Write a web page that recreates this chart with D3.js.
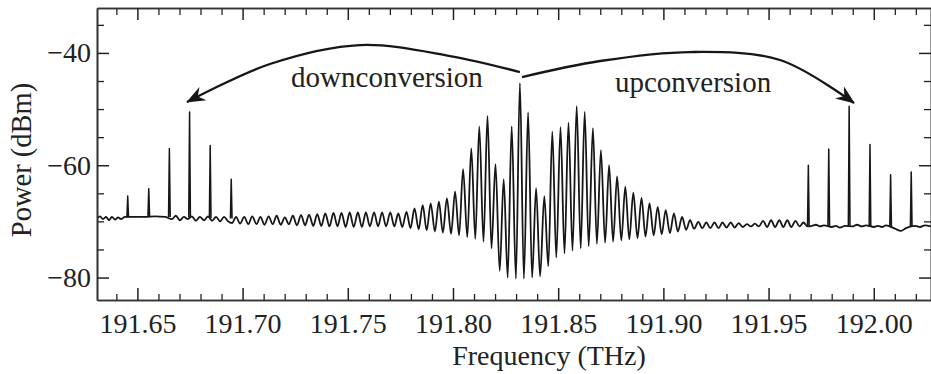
<!DOCTYPE html>
<html><head><meta charset="utf-8">
<script src="https://cdn.jsdelivr.net/npm/d3@7"></script>
<style>body{margin:0;background:#fff}svg{display:block}</style>
</head><body><svg id="c" width="931" height="374"></svg>
<script>
// ---------- data ----------
const xMajorTicks = [191.65,191.70,191.75,191.80,191.85,191.90,191.95,192.00];
const xMinorTicks = [191.64,191.66,191.67,191.68,191.69,191.71,191.72,191.73,191.74,191.76,191.77,191.78,191.79,191.81,191.82,191.83,191.84,191.86,191.87,191.88,191.89,191.91,191.92,191.93,191.94,191.96,191.97,191.98,191.99,192.01,192.02];
const yMajorTicks = [-80,-60,-40];
const yMinorTicks = [-75,-70,-65,-55,-50,-45,-35];

// flat noisy floor at the low-frequency end  [THz, dBm]
const floorLeft = [
 [191.6308,-69.5],[191.6322,-69.1],[191.6337,-69.6],[191.6351,-69.2],[191.6365,-69.8],
 [191.6379,-69.2],[191.6394,-69.7],[191.6408,-69.3],[191.6422,-69.6],[191.6441,-69.2],
 [191.6489,-69.2],[191.6536,-69.2],[191.6584,-69.1],[191.6631,-69.2],[191.6664,-69.6],
 [191.6683,-69.0],[191.6702,-69.8],[191.6721,-69.2],[191.6740,-69.6],[191.6759,-69.1],
 [191.6778,-69.9],[191.6797,-69.2],[191.6817,-69.8],[191.6836,-69.1],[191.6855,-69.9],
 [191.6874,-69.2],[191.6893,-70.0],[191.6912,-69.2],[191.6931,-70.0],[191.6950,-70.3]
];

// fringe comb: alternating maxima and minima  [THz, dBm]
const combTrace = [
 [191.6969,-69.2],[191.6988,-70.4],[191.7008,-69.2],[191.7027,-70.5],[191.7046,-69.1],[191.7066,-70.5],
 [191.7085,-69.2],[191.7104,-70.6],[191.7124,-69.1],[191.7143,-70.5],[191.7162,-69.0],[191.7181,-70.6],
 [191.7201,-69.3],[191.7220,-70.5],[191.7239,-69.0],[191.7258,-70.7],[191.7278,-68.9],[191.7297,-70.7],
 [191.7316,-68.8],[191.7336,-70.8],[191.7355,-68.7],[191.7374,-70.8],[191.7393,-68.6],[191.7413,-70.9],
 [191.7432,-68.5],[191.7451,-70.9],[191.7470,-68.5],[191.7490,-71.0],[191.7509,-68.4],[191.7528,-71.0],
 [191.7548,-68.4],[191.7567,-71.0],[191.7586,-68.4],[191.7605,-70.9],[191.7625,-68.4],[191.7644,-70.9],
 [191.7663,-68.4],[191.7682,-70.9],[191.7702,-68.4],[191.7721,-70.9],[191.7740,-68.6],[191.7759,-71.0],
 [191.7779,-68.3],[191.7798,-71.2],[191.7817,-67.7],[191.7837,-71.4],[191.7856,-67.1],[191.7875,-71.6],
 [191.7894,-66.8],[191.7914,-71.8],[191.7933,-66.5],[191.7952,-72.0],[191.7971,-65.9],[191.7991,-72.2],
 [191.8010,-64.7],[191.8029,-72.5],[191.8048,-60.7],[191.8068,-72.8],[191.8087,-57.0],[191.8106,-73.1],
 [191.8125,-53.1],[191.8145,-73.6],[191.8164,-51.2],[191.8183,-74.8],[191.8202,-59.8],[191.8222,-78.8],
 [191.8241,-62.5],[191.8260,-80.0],[191.8279,-53.1],[191.8299,-80.2],[191.8318,-45.4],[191.8337,-80.2],
 [191.8357,-50.6],[191.8376,-80.0],[191.8395,-64.1],[191.8414,-79.8],[191.8434,-65.5],[191.8453,-78.0],
 [191.8472,-54.0],[191.8491,-76.4],[191.8511,-53.2],[191.8530,-75.7],[191.8549,-52.4],[191.8568,-75.2],
 [191.8588,-49.5],[191.8607,-74.8],[191.8626,-50.5],[191.8645,-74.4],[191.8665,-53.4],[191.8684,-74.0],
 [191.8703,-57.3],[191.8723,-73.8],[191.8742,-60.0],[191.8761,-73.6],[191.8780,-62.0],[191.8800,-73.4],
 [191.8819,-63.8],[191.8838,-73.2],[191.8857,-64.9],[191.8877,-73.0],[191.8896,-65.8],[191.8915,-72.7],
 [191.8934,-66.8],[191.8954,-72.5],[191.8973,-67.4],[191.8992,-72.3],[191.9011,-68.0],[191.9031,-72.1],
 [191.9050,-68.6],[191.9069,-71.8],[191.9089,-69.2],[191.9108,-71.5],[191.9127,-69.8],[191.9146,-71.3],
 [191.9166,-70.1],[191.9185,-71.2],[191.9204,-70.2],[191.9223,-71.2],[191.9243,-70.2],[191.9262,-71.2],
 [191.9281,-70.2],[191.9300,-71.1],[191.9320,-70.2],[191.9339,-71.1],[191.9358,-70.3],[191.9377,-71.0],
 [191.9397,-70.5],[191.9416,-70.9],[191.9435,-70.4],[191.9454,-70.9],[191.9474,-69.9],[191.9493,-71.0],
 [191.9512,-69.8],[191.9531,-71.0],[191.9551,-69.8],[191.9570,-71.0],[191.9589,-69.8],[191.9608,-71.0],
 [191.9628,-69.9],[191.9647,-70.9],[191.9666,-70.2],[191.9685,-70.9]
];

// floor at the high-frequency end  [THz, dBm]
const floorRight = [
 [191.9706,-70.8],[191.9725,-70.6],[191.9744,-70.9],[191.9763,-70.7],[191.9801,-71.0],[191.9820,-70.8],
 [191.9839,-71.1],[191.9863,-70.8],[191.9901,-70.9],[191.9920,-70.6],[191.9944,-70.9],[191.9963,-70.7],
 [192.0001,-71.0],[192.0020,-70.8],[192.0039,-71.0],[192.0058,-70.7],[192.0101,-71.3],[192.0129,-71.7],
 [192.0153,-71.2],[192.0196,-70.8],[192.0220,-71.0],[192.0243,-70.7],[192.0272,-70.9]
];

// converted sidebands: [THz, peak dBm, floor dBm]
const downSidebands = [
 [191.6454,-65.5,-69.3],[191.6554,-64.2,-69.2],[191.6652,-57.0,-69.2],
 [191.6748,-50.5,-69.3],[191.6846,-56.5,-69.4],[191.6946,-62.5,-69.5]
];
const upSidebands = [
 [191.9689,-60.0,-70.8],[191.9786,-57.1,-70.8],[191.9883,-49.5,-70.9],
 [191.9982,-56.3,-70.9],[192.0080,-61.7,-71.0],[192.0178,-61.2,-70.9]
];

// annotation arrows (THz, dBm)
const downArrow = [[191.8318,-43.4],[191.7986,-40.55],[191.7558,-38.6],[191.7130,-41.97],[191.6736,-48.74]];
const upArrow   = [[191.8328,-44.3],[191.8699,-41.44],[191.9126,-39.84],[191.9554,-41.26],[191.9906,-48.92]];
const labels = [
 {text:"downconversion", f:191.7686, p:-46.1},
 {text:"upconversion",   f:191.9141, p:-47.0}
];

// ---------- drawing ----------
const svg = d3.select("#c");
const FONT = "'Liberation Serif','Times New Roman',serif";
const INK = "#161616";

const x = d3.scaleLinear().domain([191.6308, 192.0272]).range([97, 931]);
const y = d3.scaleLinear().domain([-84, -32]).range([300, 8]);

const defs = svg.append("defs");
defs.append("clipPath").attr("id","plot").append("rect")
  .attr("x",97).attr("y",8).attr("width",834).attr("height",292);
defs.append("marker").attr("id","head")
  .attr("viewBox","-20 -10 22 20").attr("refX",0).attr("refY",0)
  .attr("markerWidth",22).attr("markerHeight",20)
  .attr("markerUnits","userSpaceOnUse").attr("orient","auto")
  .append("path").attr("d","M1,0 L-18,-7.5 L-12,0 L-18,7.5 Z").attr("fill",INK);

const plot = svg.append("g").attr("clip-path","url(#plot)");

const trace = floorLeft.concat(combTrace, floorRight);
const traceLine = d3.line().x(d=>x(d[0])).y(d=>y(d[1])).curve(d3.curveMonotoneX);
plot.append("path").datum(trace).attr("d",traceLine)
  .attr("fill","none").attr("stroke",INK).attr("stroke-width",1.8).attr("stroke-linejoin","round");

const spikeLine = d3.line().x(d=>x(d[0])).y(d=>y(d[1]));
plot.selectAll("path.spike").data(downSidebands.concat(upSidebands)).join("path")
  .attr("class","spike")
  .attr("d",d=>spikeLine([[d[0]-0.0004,d[2]],[d[0],d[1]],[d[0]+0.0004,d[2]]]))
  .attr("fill","none").attr("stroke",INK).attr("stroke-width",1.5).attr("stroke-linejoin","round");

// axes
function style(g, w){
  g.selectAll("path.domain").attr("stroke","#333").attr("stroke-width",1.6);
  g.selectAll(".tick line").attr("stroke","#222").attr("stroke-width",w);
  g.selectAll("text").attr("font-family",FONT).attr("font-size",28).attr("fill","#222");
}
const fx = d3.format(".2f"), fy = d3.format("d");
style(svg.append("g").attr("transform","translate(0,300)")
  .call(d3.axisBottom(x).tickValues(xMinorTicks).tickSizeInner(-6).tickSizeOuter(0).tickFormat("")),1.3);
style(svg.append("g").attr("transform","translate(0,300)")
  .call(d3.axisBottom(x).tickValues(xMajorTicks).tickSizeInner(-12).tickSizeOuter(0).tickPadding(13).tickFormat(fx)),1.5);
style(svg.append("g").attr("transform","translate(0,8)")
  .call(d3.axisTop(x).tickValues(xMinorTicks).tickSizeInner(-7).tickSizeOuter(0).tickFormat("")),1.3);
style(svg.append("g").attr("transform","translate(0,8)")
  .call(d3.axisTop(x).tickValues(xMajorTicks).tickSizeInner(-12).tickSizeOuter(0).tickFormat("")),1.5);
style(svg.append("g").attr("transform","translate(97,0)")
  .call(d3.axisLeft(y).tickValues(yMinorTicks).tickSizeInner(-7).tickSizeOuter(0).tickFormat("")),1.3);
style(svg.append("g").attr("transform","translate(97,0)")
  .call(d3.axisLeft(y).tickValues(yMajorTicks).tickSizeInner(-12).tickSizeOuter(0).tickPadding(6).tickFormat(fy)),1.5);
style(svg.append("g").attr("transform","translate(931,0)")
  .call(d3.axisRight(y).tickValues(yMinorTicks).tickSizeInner(-7).tickSizeOuter(0).tickFormat("")),1.3);
style(svg.append("g").attr("transform","translate(931,0)")
  .call(d3.axisRight(y).tickValues(yMajorTicks).tickSizeInner(-12).tickSizeOuter(0).tickFormat("")),1.5);

// axis titles
svg.append("text").attr("x",549).attr("y",365).attr("text-anchor","middle")
  .attr("font-family",FONT).attr("font-size",28).attr("fill","#222").text("Frequency (THz)");
svg.append("text").attr("transform","translate(31,160) rotate(-90)").attr("text-anchor","middle")
  .attr("font-family",FONT).attr("font-size",28.5).attr("fill","#222").text("Power (dBm)");

// annotations
const arrowLine = d3.line().x(d=>x(d[0])).y(d=>y(d[1])).curve(d3.curveCatmullRom.alpha(0.5));
[downArrow, upArrow].forEach(a=>{
  svg.append("path").attr("d",arrowLine(a)).attr("fill","none")
    .attr("stroke",INK).attr("stroke-width",2.3).attr("marker-end","url(#head)");
});
svg.selectAll("text.ann").data(labels).join("text").attr("class","ann")
  .attr("x",d=>x(d.f)).attr("y",d=>y(d.p)).attr("text-anchor","middle")
  .attr("font-family",FONT).attr("font-size",29).attr("fill","#222").text(d=>d.text);
</script></body></html>
